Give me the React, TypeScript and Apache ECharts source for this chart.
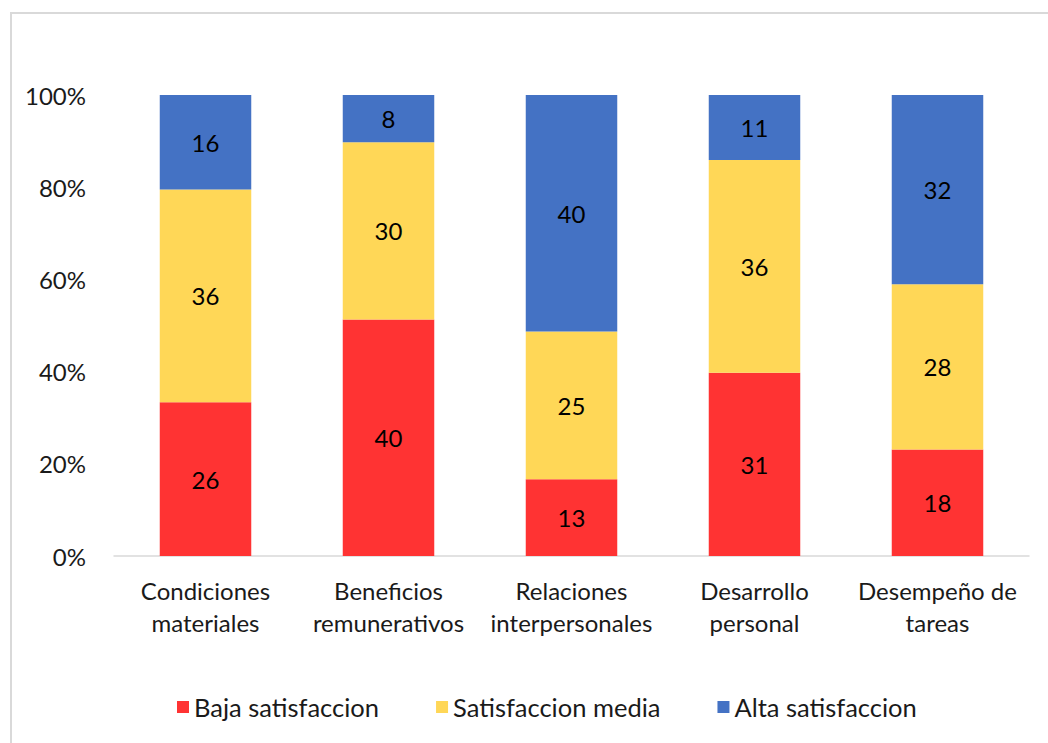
import React, { useEffect, useRef } from "react";
import * as echarts from "echarts";

const categories = [
  "Condiciones\nmateriales",
  "Beneficios\nremunerativos",
  "Relaciones\ninterpersonales",
  "Desarrollo\npersonal",
  "Desempeño de\ntareas",
];
const seriesNames = ["Baja satisfaccion", "Satisfaccion media", "Alta satisfaccion"];
const baja = [26, 40, 13, 31, 18];
const media = [36, 30, 25, 36, 28];
const alta = [16, 8, 40, 11, 32];
const colors = ["#FF3333", "#FFD757", "#4472C4"];
const yTicks = [0, 20, 40, 60, 80, 100];

const FONT = "Lato, 'Open Sans', sans-serif";
const FS = 24;

export default function App() {
  const ref = useRef<HTMLDivElement>(null);
  useEffect(() => {
    if (!ref.current) return;
    const chart = echarts.init(ref.current, null, { renderer: "svg" });
    const raw = [baja, media, alta];
    const totals = categories.map((_, i) => raw.reduce((s, arr) => s + arr[i], 0));
    chart.setOption({
      animation: false,
      textStyle: { fontFamily: FONT },
      graphic: [
        {
          type: "rect",
          shape: { x: 11, y: 13, width: 1100, height: 800 },
          style: { fill: "none", stroke: "#D9D9D9", lineWidth: 2 },
          silent: true,
        },
      ],
      grid: { left: 114, right: 19, top: 95, bottom: 187 },
      legend: {
        bottom: 18,
        left: 172,
        itemWidth: 12,
        itemHeight: 12,
        itemGap: 57,
        icon: "rect",
        textStyle: { fontSize: 25.5, color: "#1a1a1a", fontFamily: FONT },
        data: seriesNames,
      },
      xAxis: {
        type: "category",
        data: categories,
        axisLine: { lineStyle: { color: "#D9D9D9", width: 1.5 } },
        axisTick: { show: false },
        axisLabel: {
          fontSize: FS,
          color: "#1a1a1a",
          lineHeight: 32,
          margin: 18,
          interval: 0,
          fontFamily: FONT,
        },
      },
      yAxis: {
        type: "value",
        min: 0,
        max: 100,
        interval: 20,
        splitLine: { show: false },
        axisLine: { show: false },
        axisTick: { show: false },
        axisLabel: {
          fontSize: FS,
          color: "#1a1a1a",
          margin: 28,
          fontFamily: FONT,
          formatter: (v: number) => (yTicks.includes(v) ? v + "%" : ""),
        },
      },
      series: raw.map((arr, si) => ({
        name: seriesNames[si],
        type: "bar",
        stack: "total",
        barWidth: "50%",
        itemStyle: { color: colors[si] },
        data: arr.map((v, i) => ({ value: (v / totals[i]) * 100, raw: v })),
        label: {
          show: true,
          position: "inside",
          fontSize: FS,
          color: "#000",
          fontFamily: FONT,
          formatter: (p: any) => String(p.data.raw),
        },
      })),
    });
    return () => chart.dispose();
  }, []);
  return (
    <div
      ref={ref}
      style={{ position: "fixed", left: 0, top: 0, width: 1048, height: 743, background: "#fff" }}
    />
  );
}
